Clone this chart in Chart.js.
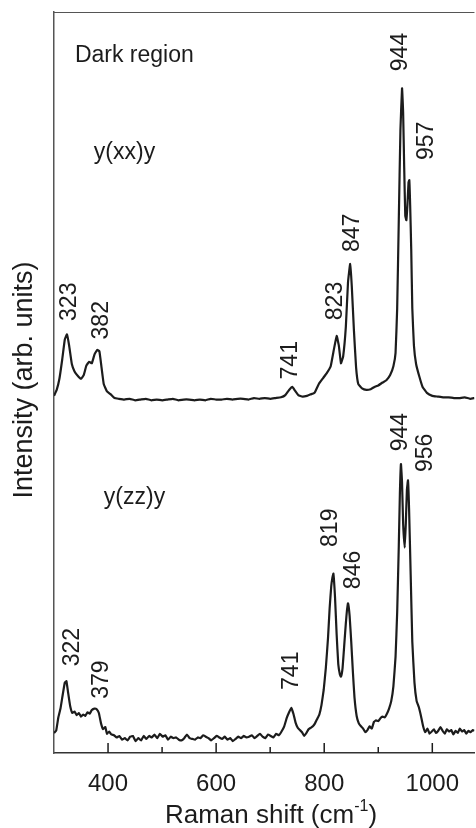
<!DOCTYPE html>
<html>
<head>
<meta charset="utf-8">
<script src="https://cdn.jsdelivr.net/npm/chart.js@4.4.1/dist/chart.umd.min.js"></script>
<style>
  body { margin: 0; background: #fff; }
  #wrap { width: 476px; height: 828px; }
</style>
</head>
<body>
<div id="wrap"><canvas id="myChart"></canvas></div>
<script>
// y(xx)y spectrum (offset upward)
const xxShift = [300, 305, 310, 315, 320, 324, 328, 333, 338, 345, 350, 355, 360, 365, 370, 375, 380, 384, 388, 392, 398,
  405, 412, 420, 430, 440, 450, 460, 470, 480, 490, 500, 510, 520, 530, 540, 550, 560, 570, 580, 590, 600, 610, 620, 630,
  640, 650, 660, 670, 680, 690, 700, 710, 720, 728, 735, 741, 746, 752, 760, 768, 775, 782, 790, 798, 805, 812, 818, 823,
  827, 831, 835, 840, 844, 848, 851, 855, 859, 863, 870, 878, 886, 893, 900, 908, 915, 922, 928, 932, 935, 938, 941, 944,
  946, 948, 950, 952, 954, 956, 957.5, 959, 961, 963, 966, 970, 976, 982, 990, 1000, 1010, 1020, 1030, 1040, 1050, 1060,
  1070, 1078];
const xxIntensity = [48.2, 49.0, 50.5, 53.0, 55.8, 56.5, 55.0, 52.5, 51.5, 50.8, 50.5, 51.0, 52.3, 52.8, 52.6, 53.8, 54.4, 54.2, 52.0, 49.8, 48.8,
  48.4, 47.9, 47.8, 47.7, 47.8, 47.6, 47.7, 47.8, 47.6, 47.7, 47.6, 47.7, 47.8, 47.6, 47.7, 47.7, 47.6, 47.7, 47.6, 47.8, 47.7, 47.7, 47.8, 47.7,
  47.8, 47.8, 47.7, 47.9, 47.8, 47.9, 47.8, 47.9, 48.0, 48.3, 49.0, 49.4, 48.9, 48.3, 48.1, 48.2, 48.4, 48.6, 49.8, 50.6, 51.3, 52.2, 54.5, 56.3,
  55.0, 52.6, 53.5, 57.5, 63.5, 66.0, 63.0, 57.0, 52.0, 49.8, 49.2, 49.0, 49.1, 49.4, 49.6, 50.0, 50.3, 51.0, 52.2, 54.0, 60.0, 72.0, 84.0, 89.7,
  86.5, 79.0, 72.5, 71.9, 74.0, 77.0, 77.3, 74.0, 68.0, 60.0, 55.0, 52.5, 50.8, 49.4, 48.6, 48.2, 48.1, 48.0, 48.0, 47.9, 47.9, 48.0,
  47.8, 47.9];

// y(zz)y spectrum
const zzShift = [300, 304, 308, 312, 316, 320, 323, 326, 330, 334, 338, 342, 346, 350, 354, 358, 362, 366, 370, 375, 379, 383,
  387, 391, 395, 398, 402, 406, 411, 416, 421, 426, 431, 436, 441, 446, 451, 456, 461, 466, 471, 476, 481, 486, 491, 496,
  501, 506, 511, 516, 521, 526, 531, 536, 541, 546, 551, 556, 561, 566, 571, 576, 581, 586, 591, 596, 601, 606, 611, 616,
  621, 626, 631, 636, 641, 646, 651, 656, 661, 666, 671, 676, 681, 686, 691, 696, 701, 706, 711, 716, 721, 726, 731, 735,
  739, 743, 747, 751, 755, 759, 763, 767, 771, 775, 779, 783, 787, 791, 795, 799, 803, 807, 810, 813, 815, 817, 820, 823, 826, 829,
  831, 834, 837, 840, 842, 844, 847, 850, 853, 856, 860, 864, 868, 872, 876, 880, 884, 888, 892, 896, 900, 904, 908, 912,
  916, 920, 924, 928, 932, 935, 938, 940, 942, 944, 946, 949, 951, 953, 955, 957, 960, 963, 967, 971, 975, 979, 983, 987, 991,
  995, 999, 1003, 1007, 1011, 1015, 1019, 1023, 1027, 1031, 1035, 1039, 1043, 1047, 1051, 1055, 1059, 1063, 1067, 1071,
  1075, 1078];
const zzIntensity = [2.7, 3.0, 4.8, 6.0, 7.8, 9.5, 9.7, 8.2, 6.3, 5.4, 5.6, 5.1, 5.4, 4.9, 5.2, 5.0, 5.5, 5.3, 5.8, 6.0, 5.9, 5.4,
  4.0, 3.2, 3.5, 2.6, 2.9, 2.5, 2.4, 2.1, 2.3, 1.8, 2.0, 1.7, 2.2, 2.3, 1.6, 2.0, 1.7, 2.3, 1.9, 2.3, 2.1, 2.5, 2.0, 2.6,
  2.2, 2.4, 1.8, 2.2, 2.0, 2.1, 1.8, 1.7, 2.0, 2.5, 2.0, 1.9, 1.8, 2.1, 2.0, 2.4, 2.2, 2.0, 1.7, 2.0, 2.3, 2.1, 1.9, 2.2,
  1.8, 2.0, 1.6, 1.9, 2.2, 2.0, 2.3, 2.1, 2.2, 2.4, 2.0, 2.3, 2.6, 2.2, 2.0, 2.5, 2.3, 2.1, 2.6, 2.4, 2.9, 3.6, 4.8, 5.5,
  6.1, 5.3, 4.1, 3.4, 3.1, 2.8, 2.3, 2.7, 3.2, 3.4, 3.6, 4.0, 4.6, 5.2, 6.5, 8.5, 11.5, 15.5, 19.5, 22.5, 23.6, 24.2, 21.0, 16.0, 12.0, 10.6,
  10.3, 11.5, 14.5, 17.5, 19.2, 20.2, 18.5, 15.0, 11.0, 7.5, 5.0, 4.0, 3.6, 3.3, 2.8, 3.1, 3.6, 3.3, 4.2, 4.4, 4.3, 4.7, 4.9, 4.8,
  5.3, 6.0, 7.0, 9.0, 13.0, 19.0, 28.0, 35.0, 39.0, 36.5, 31.0, 27.7, 31.0, 35.5, 36.8, 33.0, 24.0, 15.0, 9.5, 7.0, 6.2, 5.0, 3.6, 2.8, 3.3,
  2.6, 2.9, 3.2, 2.7, 3.0, 3.5, 3.0, 2.6, 3.2, 2.9, 3.1, 2.5, 3.0, 2.7, 3.3, 2.9, 3.1, 2.6, 3.0, 2.8,
  3.1, 3.0];

// peak annotations (rotated), positions in data units
const peakText = ['944', '957', '847', '823', '323', '382', '741', '944', '956', '819', '846', '322', '379', '741'];
const peakAtX  = [941.5, 989.4, 853, 821.7, 329.5, 388.5, 738.7, 941.5, 987.6, 812.4, 854.8, 335, 388.5, 740.6];
const peakAtY  = [94.6, 82.6, 70.2, 61.0, 60.9, 58.4, 53.0, 43.3, 40.5, 30.4, 24.7, 14.3, 9.9, 11.1];

// horizontal notes
const noteText = ['Dark region', 'y(xx)y', 'y(zz)y'];
const noteAtX  = [338.7, 373.7, 392.2];
const noteAtY  = [94.1, 81.0, 34.5];

const xTickMajor = [400, 600, 800, 1000];

const FONT = '"Liberation Sans", Arial, sans-serif';
const INK = '#1c1c1c';

function toPoints(xs, ys) {
  return xs.map((x, i) => ({ x: x, y: ys[i] }));
}

const decorations = {
  id: 'decorations',
  afterDatasetsDraw(chart) {
    const ctx = chart.ctx;
    const xs = chart.scales.x;
    const ys = chart.scales.y;
    const area = chart.chartArea;
    ctx.save();

    // top frame line
    ctx.strokeStyle = '#555';
    ctx.lineWidth = 1;
    ctx.beginPath();
    ctx.moveTo(area.left, area.top + 0.5);
    ctx.lineTo(area.right, area.top + 0.5);
    ctx.stroke();

    // inward tick marks every 100
    ctx.strokeStyle = INK;
    ctx.lineWidth = 1.5;
    for (let v = 400; v <= 1000; v += 100) {
      const px = xs.getPixelForValue(v);
      const len = xTickMajor.includes(v) ? 10 : 6;
      ctx.beginPath();
      ctx.moveTo(px, area.bottom);
      ctx.lineTo(px, area.bottom - len);
      ctx.stroke();
    }

    ctx.fillStyle = INK;
    ctx.font = '23px ' + FONT;

    // rotated peak labels
    ctx.textAlign = 'center';
    ctx.textBaseline = 'middle';
    peakText.forEach((t, i) => {
      ctx.save();
      ctx.translate(xs.getPixelForValue(peakAtX[i]), ys.getPixelForValue(peakAtY[i]));
      ctx.rotate(-Math.PI / 2);
      ctx.fillText(t, 0, 0);
      ctx.restore();
    });

    // notes
    ctx.textAlign = 'left';
    noteText.forEach((t, i) => {
      ctx.fillText(t, xs.getPixelForValue(noteAtX[i]), ys.getPixelForValue(noteAtY[i]));
    });

    // y axis title
    ctx.save();
    ctx.translate(25, 380);
    ctx.rotate(-Math.PI / 2);
    ctx.textAlign = 'center';
    ctx.font = '27px ' + FONT;
    ctx.fillText('Intensity (arb. units)', 0, 0);
    ctx.restore();

    // x axis title with superscript
    const base = 'Raman shift (cm';
    const sup = '-1';
    const tail = ')';
    ctx.font = '26px ' + FONT;
    const wBase = ctx.measureText(base).width;
    const wTail = ctx.measureText(tail).width;
    ctx.font = '16px ' + FONT;
    const wSup = ctx.measureText(sup).width;
    const total = wBase + wSup + wTail;
    const x0 = 271 - total / 2;
    const yT = 816;
    ctx.textAlign = 'left';
    ctx.font = '26px ' + FONT;
    ctx.fillText(base, x0, yT);
    ctx.font = '16px ' + FONT;
    ctx.fillText(sup, x0 + wBase, yT - 9);
    ctx.font = '26px ' + FONT;
    ctx.fillText(tail, x0 + wBase + wSup, yT);

    ctx.restore();
  }
};

const ctx = document.getElementById('myChart').getContext('2d');

new Chart(ctx, {
  type: 'line',
  data: {
    datasets: [
      { label: 'y(xx)y', data: toPoints(xxShift, xxIntensity) },
      { label: 'y(zz)y', data: toPoints(zzShift, zzIntensity) }
    ]
  },
  options: {
    responsive: true,
    maintainAspectRatio: false,
    animation: false,
    layout: { padding: { top: 12, right: 0, left: 0, bottom: 0 } },
    elements: {
      line: { borderColor: INK, borderWidth: 2.2, tension: 0.1, fill: false },
      point: { radius: 0 }
    },
    plugins: {
      legend: { display: false },
      tooltip: { enabled: false }
    },
    scales: {
      x: {
        type: 'linear',
        min: 300,
        max: 1078,
        afterFit(scale) { scale.height = 75; },
        grid: { display: false, drawTicks: false },
        border: { display: true, color: '#333', width: 1.5 },
        ticks: {
          stepSize: 100,
          includeBounds: false,
          autoSkip: false,
          maxRotation: 0,
          padding: 17,
          color: INK,
          font: { family: FONT, size: 24 },
          callback: v => xTickMajor.includes(v) ? String(v) : ''
        }
      },
      y: {
        type: 'linear',
        min: 0,
        max: 100,
        afterFit(scale) { scale.width = 54; },
        grid: { display: false, drawTicks: false },
        border: { display: true, color: '#555', width: 1.5 },
        ticks: { display: false }
      }
    }
  },
  plugins: [decorations]
});
</script>
</body>
</html>
